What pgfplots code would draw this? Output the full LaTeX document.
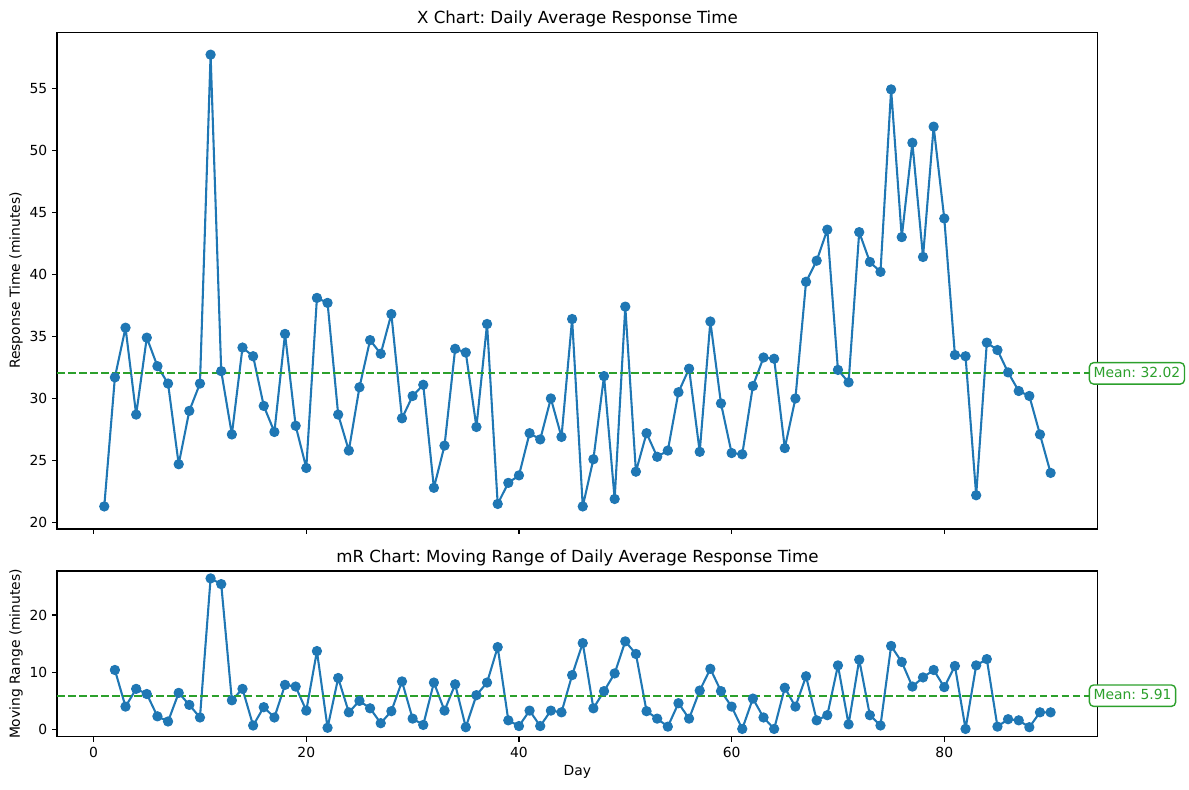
\documentclass[border=0pt]{standalone}
\usepackage{pgfplots}
\pgfplotsset{compat=1.18}
\usepackage{fontspec}
\setmainfont{DejaVu Sans}
\frenchspacing
\definecolor{tabblue}{HTML}{1F77B4}
\definecolor{tabgreen}{HTML}{2CA02C}
\pgfplotsset{
  mpl/.style={
    scale only axis, width=749.5pt, xmin=-3.45, xmax=94.45,
    clip=false,
    axis line style={line width=0.8pt},
    tick style={line width=0.8pt, black},
    major tick length=3.5pt, tick align=outside, tick pos=left,
    xtick={0,20,40,60,80},
    ticklabel style={font=\fontsize{10}{12}\selectfont},
    /pgf/number format/assume math mode=true,
    label style={font=\fontsize{10}{12}\selectfont},
    every axis y label/.style={at={(axis description cs:-0.0394,0.5)}, rotate=90, anchor=center},
    title style={font=\fontsize{12}{14}\selectfont, at={(axis description cs:0.5,1)}, anchor=base},
  },
}
\tikzset{
  series/.style={tabblue, line width=1.5pt, line join=round, line cap=round, mark=*, mark size=3.3pt,
    mark options={solid, fill=tabblue, draw=tabblue, line width=0.8pt}},
  meanline/.style={tabgreen, line width=1.5pt, dash pattern=on 5.55pt off 2.4pt},
  meanbox/.style={anchor=west, draw=tabgreen, fill=white, text=tabgreen, rounded corners=3pt,
    line width=1pt, inner sep=3pt, outer sep=0pt, text height=7.4pt, text depth=2pt,
    font=\fontsize{10}{12}\selectfont},
}
\begin{document}
\begin{tikzpicture}
\path[use as bounding box] (0,0) rectangle (856.08pt,568.8pt);
\begin{axis}[mpl, at={(41pt,187.9pt)}, anchor=south west, height=357.8pt,
  ymin=19.48, ymax=59.52, ytick={20,25,30,35,40,45,50,55},
  xticklabels={},
  ylabel={Response Time (minutes)},
  title={X Chart: Daily Average Response Time},
]
\addplot[series] coordinates {
(1,21.3) (2,31.7) (3,35.7) (4,28.7) (5,34.9) (6,32.6) (7,31.2) (8,24.7) (9,29.0) (10,31.2)
(11,57.7) (12,32.2) (13,27.1) (14,34.1) (15,33.4) (16,29.4) (17,27.3) (18,35.2) (19,27.8) (20,24.4)
(21,38.1) (22,37.7) (23,28.7) (24,25.8) (25,30.9) (26,34.7) (27,33.6) (28,36.8) (29,28.4) (30,30.2)
(31,31.1) (32,22.8) (33,26.2) (34,34.0) (35,33.7) (36,27.7) (37,36.0) (38,21.5) (39,23.2) (40,23.8)
(41,27.2) (42,26.7) (43,30.0) (44,26.9) (45,36.4) (46,21.3) (47,25.1) (48,31.8) (49,21.9) (50,37.4)
(51,24.1) (52,27.2) (53,25.3) (54,25.8) (55,30.5) (56,32.4) (57,25.7) (58,36.2) (59,29.6) (60,25.6)
(61,25.5) (62,31.0) (63,33.3) (64,33.2) (65,26.0) (66,30.0) (67,39.4) (68,41.1) (69,43.6) (70,32.3)
(71,31.3) (72,43.4) (73,41.0) (74,40.2) (75,54.9) (76,43.0) (77,50.6) (78,41.4) (79,51.9) (80,44.5)
(81,33.5) (82,33.4) (83,22.2) (84,34.5) (85,33.9) (86,32.1) (87,30.6) (88,30.2) (89,27.1) (90,24.0)
};
\addplot[meanline] coordinates {(-3.45,32.02) (94.45,32.02)};
\node[meanbox] at (axis cs:93.65,32.02) {Mean: 32.02};
\end{axis}
\begin{axis}[mpl, at={(41pt,38.2pt)}, anchor=south west, height=119.5pt,
  ymin=-1.3, ymax=27.7, ytick={0,10,20},
  xlabel={Day},
  every axis x label/.style={at={(axis description cs:0.5,-0.2109)}, anchor=center},
  ylabel={Moving Range (minutes)},
  title={mR Chart: Moving Range of Daily Average Response Time},
]
\addplot[series] coordinates {
(2,10.4) (3,4.0) (4,7.1) (5,6.2) (6,2.3) (7,1.4) (8,6.4) (9,4.3) (10,2.1)
(11,26.4) (12,25.4) (13,5.1) (14,7.1) (15,0.7) (16,3.9) (17,2.1) (18,7.8) (19,7.5) (20,3.3)
(21,13.7) (22,0.3) (23,9.0) (24,3.0) (25,5.0) (26,3.7) (27,1.1) (28,3.2) (29,8.4) (30,1.9)
(31,0.8) (32,8.2) (33,3.3) (34,7.9) (35,0.4) (36,6.0) (37,8.2) (38,14.4) (39,1.6) (40,0.6)
(41,3.3) (42,0.6) (43,3.3) (44,3.0) (45,9.5) (46,15.1) (47,3.7) (48,6.7) (49,9.8) (50,15.4)
(51,13.2) (52,3.2) (53,1.9) (54,0.5) (55,4.6) (56,1.9) (57,6.8) (58,10.6) (59,6.7) (60,4.0)
(61,0.1) (62,5.4) (63,2.1) (64,0.1) (65,7.3) (66,4.0) (67,9.3) (68,1.6) (69,2.5) (70,11.2)
(71,0.9) (72,12.2) (73,2.5) (74,0.7) (75,14.6) (76,11.8) (77,7.5) (78,9.1) (79,10.4) (80,7.4)
(81,11.1) (82,0.1) (83,11.2) (84,12.3) (85,0.5) (86,1.8) (87,1.6) (88,0.4) (89,3.0) (90,3.0)
};
\addplot[meanline] coordinates {(-3.45,5.91) (94.45,5.91)};
\node[meanbox] at (axis cs:93.65,5.91) {Mean: 5.91};
\end{axis}
\end{tikzpicture}
\end{document}
